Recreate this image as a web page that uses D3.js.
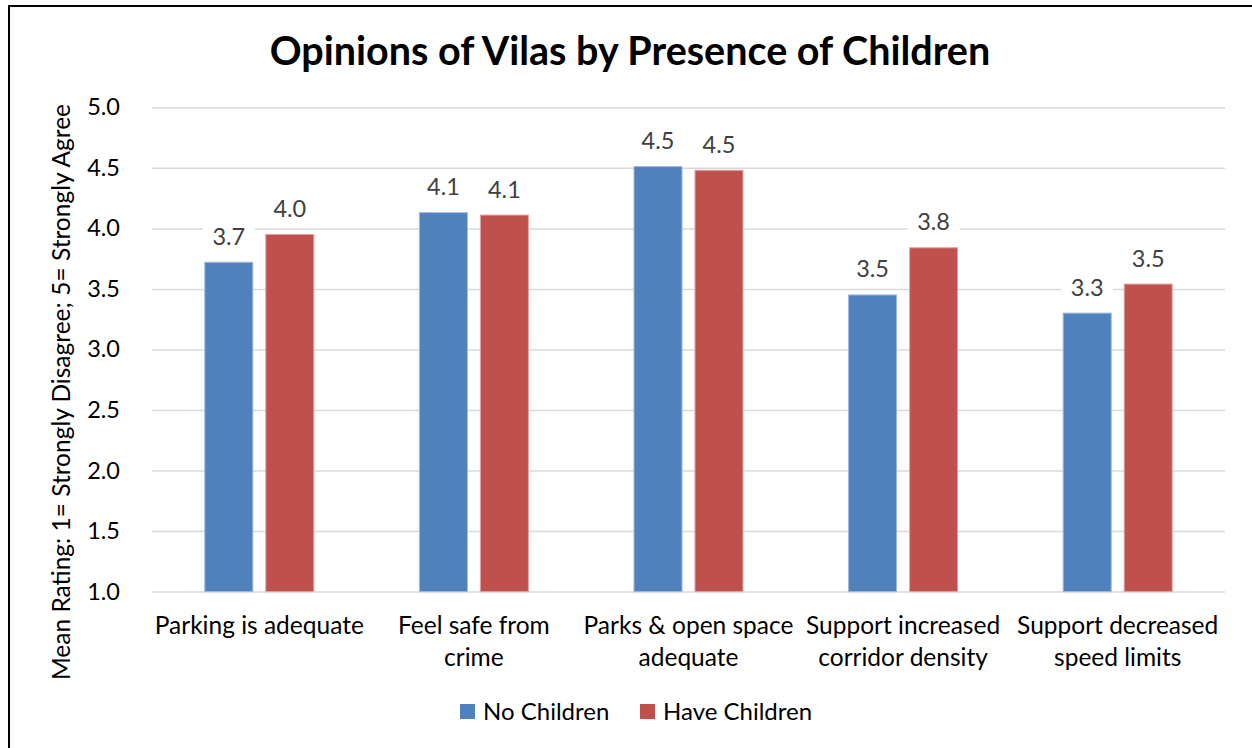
<!DOCTYPE html>
<html>
<head>
<meta charset="utf-8">
<script src="https://cdn.jsdelivr.net/npm/d3@7"></script>
<style>
  html, body { margin: 0; padding: 0; background: #fff; }
  svg { display: block; }
  text { font-family: Lato, "Open Sans", sans-serif; }
</style>
</head>
<body>
<svg id="chart" width="1252" height="748"></svg>
<script>
// Survey questions (category axis), each split over two lines
const categories = [
  "Parking is adequate",
  "Feel safe from crime",
  "Parks & open space adequate",
  "Support increased corridor density",
  "Support decreased speed limits"
];
const categoryLines = [
  ["Parking is adequate"],
  ["Feel safe from", "crime"],
  ["Parks & open space", "adequate"],
  ["Support increased", "corridor density"],
  ["Support decreased", "speed limits"]
];

const seriesNames = ["No Children", "Have Children"];
const seriesColors = ["#4F81BD", "#C0504D"];
const seriesStrokes = ["#9DB7DB", "#E0A3A1"];

// Mean ratings (1 = strongly disagree, 5 = strongly agree)
const noChildren   = [3.72, 4.13, 4.51, 3.45, 3.30];
const haveChildren = [3.95, 4.11, 4.48, 3.84, 3.54];

const yTicks = [1.0, 1.5, 2.0, 2.5, 3.0, 3.5, 4.0, 4.5, 5.0];

const titleText = "Opinions of Vilas by Presence of Children";
const yTitleText = "Mean Rating: 1= Strongly Disagree; 5= Strongly Agree";

const rows = categories.map((c, i) => ({
  category: c,
  lines: categoryLines[i],
  values: [noChildren[i], haveChildren[i]]
}));

const svg = d3.select("#chart");

// chart frame (runs past the right and bottom edges)
svg.append("rect")
  .attr("x", 9).attr("y", 6)
  .attr("width", 1300).attr("height", 800)
  .attr("fill", "#fff")
  .attr("stroke", "#000").attr("stroke-width", 2);

const plot = { left: 152, right: 1225, top: 107.3, bottom: 591.6 };

const x0 = d3.scaleBand()
  .domain(categories)
  .range([plot.left, plot.right]);

const clusterHalf = 54.5;
const x1 = d3.scaleBand()
  .domain(seriesNames)
  .range([x0.bandwidth() / 2 - clusterHalf, x0.bandwidth() / 2 + clusterHalf])
  .paddingInner(0.213);

const y = d3.scaleLinear()
  .domain([1, 5])
  .range([plot.bottom, plot.top]);

// gridlines and value ticks
const yAxis = d3.axisLeft(y)
  .tickValues(yTicks)
  .tickSize(-(plot.right - plot.left))
  .tickPadding(32)
  .tickFormat(d3.format(".1f"));

const gy = svg.append("g")
  .attr("transform", `translate(${plot.left},0)`)
  .call(yAxis);
gy.select(".domain").remove();
gy.selectAll(".tick line")
  .attr("stroke", "#D9D9D9")
  .attr("stroke-width", 1.5);
gy.selectAll(".tick text")
  .attr("fill", "#000")
  .style("font-size", "23.5px");

// bars
const groups = svg.append("g")
  .selectAll("g")
  .data(rows)
  .join("g")
  .attr("transform", d => `translate(${x0(d.category)},0)`);

groups.selectAll("rect")
  .data(d => d.values.map((v, i) => ({ series: seriesNames[i], idx: i, value: v })))
  .join("rect")
  .attr("x", d => x1(d.series))
  .attr("y", d => y(d.value))
  .attr("width", x1.bandwidth())
  .attr("height", d => y(1) - y(d.value))
  .attr("fill", d => seriesColors[d.idx])
  .attr("stroke", d => seriesStrokes[d.idx])
  .attr("stroke-width", 1);

// data labels with white backing
const fmt = d3.format(".1f");
const labels = groups.selectAll("g.lbl")
  .data(d => d.values.map((v, i) => ({ series: seriesNames[i], idx: i, value: v })))
  .join("g")
  .attr("class", "lbl")
  .attr("transform", d => `translate(${x1(d.series) + x1.bandwidth() / 2},${y(d.value) - 26})`);

labels.append("rect")
  .attr("x", -26).attr("y", -15)
  .attr("width", 52).attr("height", 30)
  .attr("fill", "#fff");

labels.append("text")
  .attr("text-anchor", "middle")
  .attr("dy", "0.36em")
  .attr("fill", "#404040")
  .style("font-size", "23.5px")
  .text(d => fmt(d.value));

// category labels
const catG = svg.append("g");
rows.forEach(r => {
  const cx = x0(r.category) + x0.bandwidth() / 2;
  const t = catG.append("text")
    .attr("text-anchor", "middle")
    .attr("fill", "#000")
    .style("font-size", "24.5px");
  r.lines.forEach((ln, k) => {
    t.append("tspan")
      .attr("x", cx)
      .attr("y", 634 + k * 32)
      .text(ln);
  });
});

// y-axis title
svg.append("text")
  .attr("transform", "translate(70,392) rotate(-90)")
  .attr("text-anchor", "middle")
  .attr("fill", "#000")
  .style("font-size", "24.5px")
  .text(yTitleText);

// chart title
svg.append("text")
  .attr("x", 630)
  .attr("y", 65)
  .attr("text-anchor", "middle")
  .attr("fill", "#000")
  .style("font-size", "39.5px")
  .style("font-weight", "bold")
  .text(titleText);

// legend
const legend = svg.append("g");
const legendItems = [
  { name: seriesNames[0], color: seriesColors[0], x: 460 },
  { name: seriesNames[1], color: seriesColors[1], x: 640 }
];
legendItems.forEach(it => {
  legend.append("rect")
    .attr("x", it.x).attr("y", 704)
    .attr("width", 15).attr("height", 15)
    .attr("fill", it.color);
  legend.append("text")
    .attr("x", it.x + 23)
    .attr("y", 720)
    .attr("fill", "#000")
    .style("font-size", "24px")
    .text(it.name);
});
</script>
</body>
</html>
